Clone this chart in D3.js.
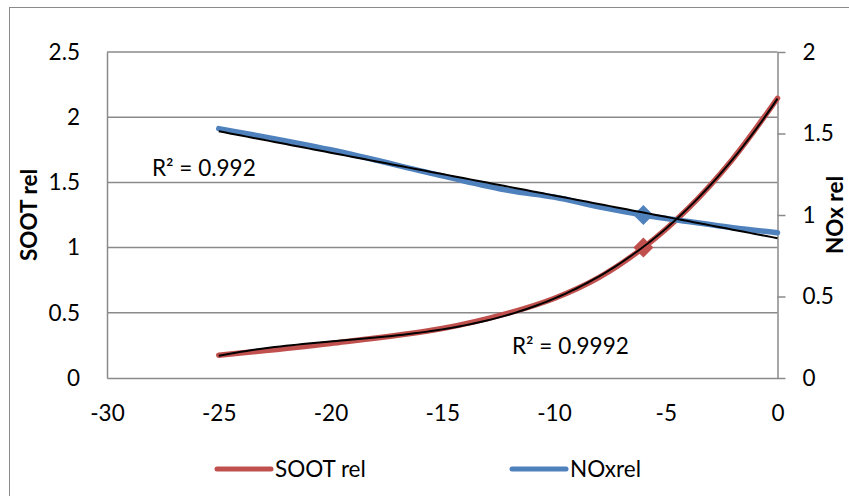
<!DOCTYPE html>
<html><head><meta charset="utf-8">
<script src="https://cdn.jsdelivr.net/npm/d3@7"></script>
<style>
html,body{margin:0;padding:0;background:#fff;}
svg{display:block;}
text{font-family:Lato,"Open Sans",sans-serif;fill:#000;}
</style></head><body>
<svg id="chart" width="849" height="496"></svg>
<script>
// Injection timing (x) and relative emissions
const timing  = [-25, -20, -15, -12, -10, -8, -6, -4, -2, 0];
const sootRel = [0.175, 0.265, 0.38, 0.50, 0.61, 0.77, 1.0, 1.30, 1.68, 2.145];
const noxRel  = [1.53, 1.40, 1.24, 1.15, 1.11, 1.05, 1.0, 0.96, 0.922, 0.891];
const markerTiming = [-6];

const xTicks     = [-30, -25, -20, -15, -10, -5, 0];
const leftTicks  = [0, 0.5, 1, 1.5, 2, 2.5];
const rightTicks = [0, 0.5, 1, 1.5, 2];

const seriesNames = ["SOOT rel", "NOxrel"];
const axisTitles  = ["SOOT rel", "NOx rel"];
const r2Labels    = ["R\u00B2 = 0.9992", "R\u00B2 = 0.992"];

const RED = "#C0504D", BLUE = "#4F81BD", GRID = "#8a8a8a";
const FS = 22.5;

const svg = d3.select("#chart");
svg.append("rect").attr("width", 849).attr("height", 496).attr("fill", "#fff");
// chart frame
svg.append("rect").attr("x", 9.5).attr("y", 7.5).attr("width", 900).attr("height", 600)
  .attr("fill", "none").attr("stroke", GRID).attr("stroke-width", 1);

const L = 107, R = 777.5, T = 52, B = 378;
const x  = d3.scaleLinear().domain([-30, 0]).range([L, R]);
const yL = d3.scaleLinear().domain([0, 2.5]).range([B, T]);
const yR = d3.scaleLinear().domain([0, 2]).range([B, T]);

// horizontal gridlines
svg.append("g").selectAll("line").data(leftTicks.filter(d => d > 0)).join("line")
  .attr("x1", L).attr("x2", R).attr("y1", d => yL(d)).attr("y2", d => yL(d))
  .attr("stroke", GRID).attr("stroke-width", 1.5);

function styleAxis(g) {
  g.selectAll(".domain").attr("stroke", GRID).attr("stroke-width", 1.5);
  g.selectAll(".tick line").attr("stroke", GRID).attr("stroke-width", 1.5);
  g.selectAll("text").attr("font-size", FS).attr("font-family", "Lato").attr("fill", "#000");
}

svg.append("g").attr("transform", `translate(0,${B})`)
  .call(d3.axisBottom(x).tickValues(xTicks).tickFormat(d => String(d)).tickSize(0).tickPadding(27))
  .call(styleAxis);

svg.append("g").attr("transform", `translate(${L},0)`)
  .call(d3.axisLeft(yL).tickValues(leftTicks).tickFormat(d => String(d)).tickSize(0).tickPadding(27))
  .call(styleAxis);

svg.append("g").attr("transform", `translate(${R},0)`)
  .call(d3.axisRight(yR).tickValues(rightTicks).tickFormat(d => String(d)).tickSize(8).tickSizeOuter(0).tickPadding(17))
  .call(styleAxis);

// series
const soot = timing.map((t, i) => [t, sootRel[i]]);
const nox  = timing.map((t, i) => [t, noxRel[i]]);
const curve = d3.curveCatmullRom.alpha(0.5);

svg.append("path").datum(soot)
  .attr("d", d3.line().x(d => x(d[0])).y(d => yL(d[1])).curve(curve))
  .attr("fill", "none").attr("stroke", RED).attr("stroke-width", 5.5).attr("stroke-linecap", "round");
svg.append("path").datum(nox)
  .attr("d", d3.line().x(d => x(d[0])).y(d => yR(d[1])).curve(curve))
  .attr("fill", "none").attr("stroke", BLUE).attr("stroke-width", 5.5).attr("stroke-linecap", "round");

// markers
const diamond = d3.symbol(d3.symbolSquare, 200);
svg.append("g").selectAll("path").data(soot.filter(d => markerTiming.includes(d[0]))).join("path")
  .attr("d", diamond).attr("fill", RED)
  .attr("transform", d => `translate(${x(d[0])},${yL(d[1])}) rotate(45)`);
svg.append("g").selectAll("path").data(nox.filter(d => markerTiming.includes(d[0]))).join("path")
  .attr("d", diamond).attr("fill", BLUE)
  .attr("transform", d => `translate(${x(d[0])},${yR(d[1])}) rotate(45)`);

// trendlines: cubic polynomial for soot, linear for NOx (least squares)
function polyFit(pts, order) {
  const n = order + 1;
  const A = Array.from({length: n}, () => new Array(n + 1).fill(0));
  pts.forEach(([px, py]) => {
    for (let r = 0; r < n; r++) {
      for (let c = 0; c < n; c++) A[r][c] += Math.pow(px, r + c);
      A[r][n] += py * Math.pow(px, r);
    }
  });
  for (let i = 0; i < n; i++) {
    let m = i;
    for (let k = i + 1; k < n; k++) if (Math.abs(A[k][i]) > Math.abs(A[m][i])) m = k;
    [A[i], A[m]] = [A[m], A[i]];
    for (let k = 0; k < n; k++) {
      if (k === i) continue;
      const f = A[k][i] / A[i][i];
      for (let c = i; c <= n; c++) A[k][c] -= f * A[i][c];
    }
  }
  const coef = A.map((row, i) => row[n] / row[i]);
  return t => coef.reduce((s, c, i) => s + c * Math.pow(t, i), 0);
}
const sootFit = polyFit(soot, 3);
const noxFit  = polyFit(nox, 1);
const tGrid = d3.range(timing[0], timing[timing.length - 1] + 0.001, 0.25);

svg.append("path").datum(tGrid)
  .attr("d", d3.line().x(t => x(t)).y(t => yL(sootFit(t))))
  .attr("fill", "none").attr("stroke", "#000").attr("stroke-width", 2);
svg.append("path").datum(tGrid)
  .attr("d", d3.line().x(t => x(t)).y(t => yR(noxFit(t))))
  .attr("fill", "none").attr("stroke", "#000").attr("stroke-width", 2);

// R² labels
svg.append("text").attr("x", 512).attr("y", 354).attr("font-size", FS).text(r2Labels[0]);
svg.append("text").attr("x", 152).attr("y", 176).attr("font-size", FS).text(r2Labels[1]);

// axis titles
svg.append("text").attr("transform", `translate(37,${(T + B) / 2}) rotate(-90)`)
  .attr("text-anchor", "middle").attr("font-size", FS).attr("font-weight", "bold").text(axisTitles[0]);
svg.append("text").attr("transform", `translate(843,${(T + B) / 2}) rotate(-90)`)
  .attr("text-anchor", "middle").attr("font-size", FS).attr("font-weight", "bold").text(axisTitles[1]);

// legend
const legend = [
  {name: seriesNames[0], color: RED, x0: 217},
  {name: seriesNames[1], color: BLUE, x0: 512}
];
const lg = svg.append("g").selectAll("g").data(legend).join("g")
  .attr("transform", d => `translate(${d.x0},469)`);
lg.append("line").attr("x1", 0).attr("x2", 54).attr("y1", 0).attr("y2", 0)
  .attr("stroke", d => d.color).attr("stroke-width", 5).attr("stroke-linecap", "round");
lg.append("text").attr("x", 58).attr("y", 8).attr("font-size", FS).text(d => d.name);
</script>
</body></html>
